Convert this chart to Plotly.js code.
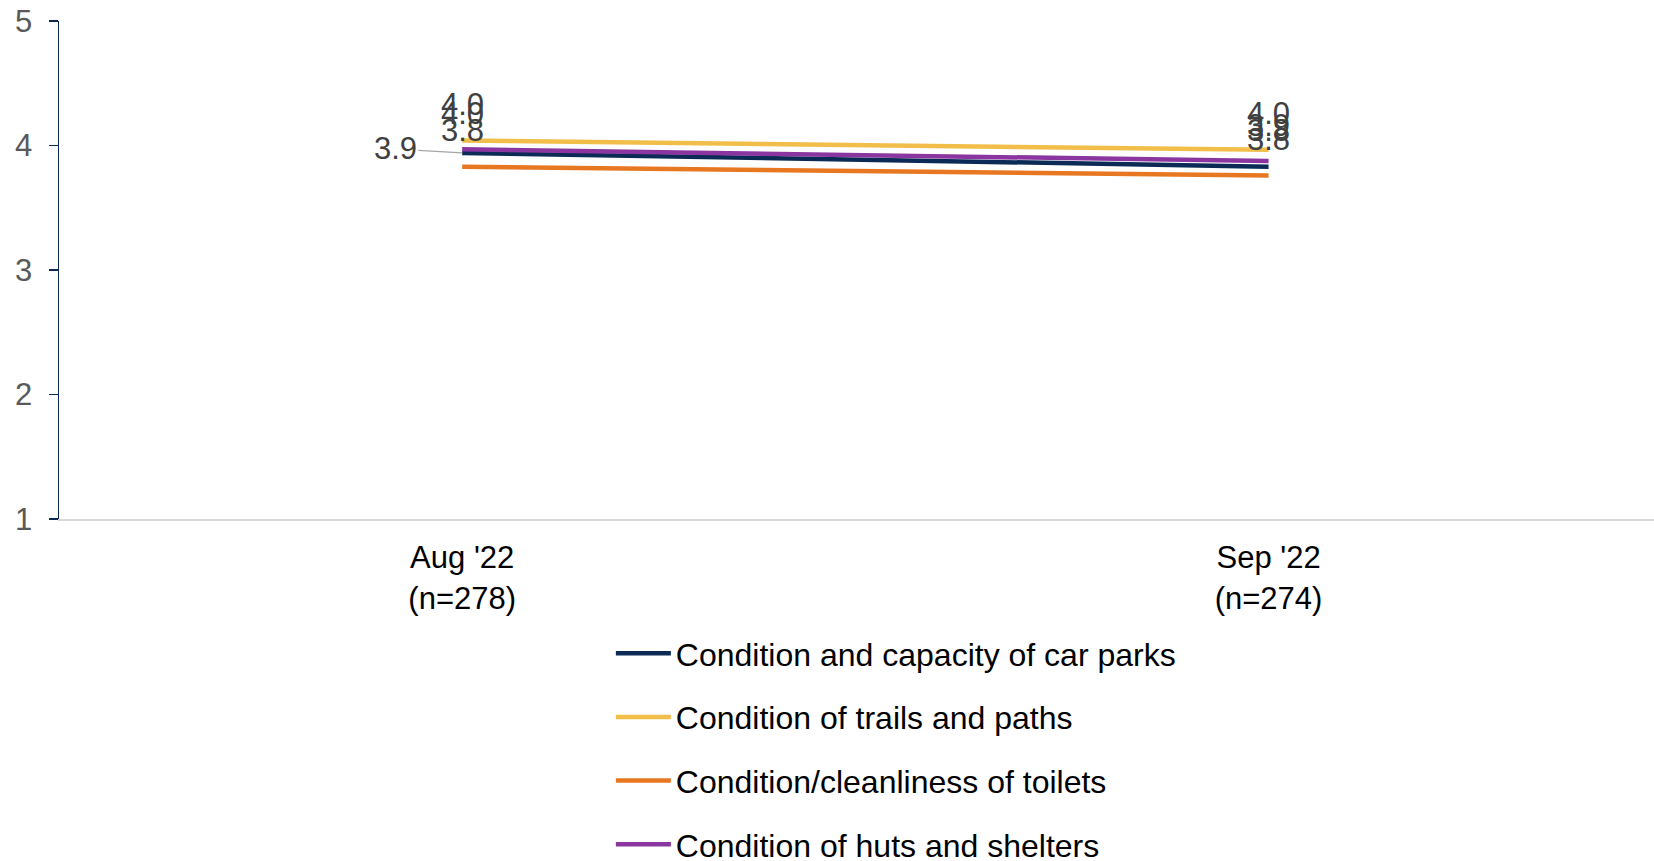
<!DOCTYPE html>
<html>
<head>
<meta charset="utf-8">
<script src="https://cdn.plot.ly/plotly-3.0.1.min.js"></script>
<style>html,body{margin:0;padding:0;background:#fff;}#chart{width:1654px;height:861px;}</style>
</head>
<body>
<div id="chart"></div>
<script>
const categories = ["Aug '22<br>(n=278)", "Sep '22<br>(n=274)"];
const seriesNames = ["Condition and capacity of car parks", "Condition of trails and paths", "Condition/cleanliness of toilets", "Condition of huts and shelters"];
const carParks = [3.94, 3.83];
const trails = [4.04, 3.965];
const toilets = [3.83, 3.76];
const huts = [3.97, 3.875];
const labelsCarParks = ["3.9", "3.8"];
const labelsTrails = ["4.0", "4.0"];
const labelsToilets = ["3.8", "3.8"];
const labelsHuts = ["4.0", "3.9"];
const colors = ["#0B2A55", "#F2BE4A", "#E87722", "#8A35A0"];

const seriesVals = [carParks, trails, toilets, huts];
const seriesLabels = [labelsCarParks, labelsTrails, labelsToilets, labelsHuts];
const font = "Liberation Sans, Arial, sans-serif";

const traces = seriesVals.map((v, i) => ({
  type: 'scatter', mode: 'lines', x: [0, 1], y: v, name: seriesNames[i],
  legendgroup: 'g' + i,
  line: {color: colors[i], width: 4.5}, hoverinfo: 'skip'
}));

const annotations = [];
seriesVals.forEach((v, i) => {
  v.forEach((val, j) => {
    if (i === 0 && j === 0) {
      annotations.push({x: j, y: val, xref: 'x', yref: 'y', text: seriesLabels[i][j],
        showarrow: true, arrowhead: 0, arrowwidth: 1.2, arrowcolor: '#A6A6A6', ax: -67, ay: -4, standoff: 0,
        font: {family: font, size: 31, color: '#404040'}});
    } else {
      annotations.push({x: j, y: val, xref: 'x', yref: 'y', text: seriesLabels[i][j],
        showarrow: false, yshift: 36,
        font: {family: font, size: 31, color: '#404040'}});
    }
  });
});

const layout = {
  width: 1654, height: 861,
  margin: {l: 59, r: 0, t: 21, b: 342, autoexpand: false},
  paper_bgcolor: '#fff', plot_bgcolor: '#fff',
  showlegend: true,
  legend: {x: 0.346, xanchor: 'left', y: -0.215, yanchor: 'top', orientation: 'v',
    traceorder: 'grouped', tracegroupgap: 19, itemwidth: 55,
    font: {family: font, size: 32, color: '#000'}},
  xaxis: {
    type: 'linear', range: [-0.5, 1.478], tickvals: [0, 1], ticktext: categories,
    showgrid: false, zeroline: false, showline: true, linecolor: '#D9D9D9', linewidth: 2,
    ticks: '', ticklabelstandoff: 10, tickfont: {family: font, size: 31, color: '#000'}, fixedrange: true
  },
  yaxis: {
    range: [1, 5], tickvals: [1, 2, 3, 4, 5], showgrid: false, zeroline: false,
    showline: true, linecolor: '#0B2A55', linewidth: 1.5,
    ticks: 'outside', ticklen: 9, tickcolor: '#0B2A55', tickwidth: 1.5,
    ticklabelstandoff: 10,
    tickfont: {family: font, size: 31, color: '#595959'}, fixedrange: true
  },
  annotations: annotations
};
Plotly.newPlot('chart', traces, layout, {displayModeBar: false, staticPlot: true});
</script>
</body>
</html>
